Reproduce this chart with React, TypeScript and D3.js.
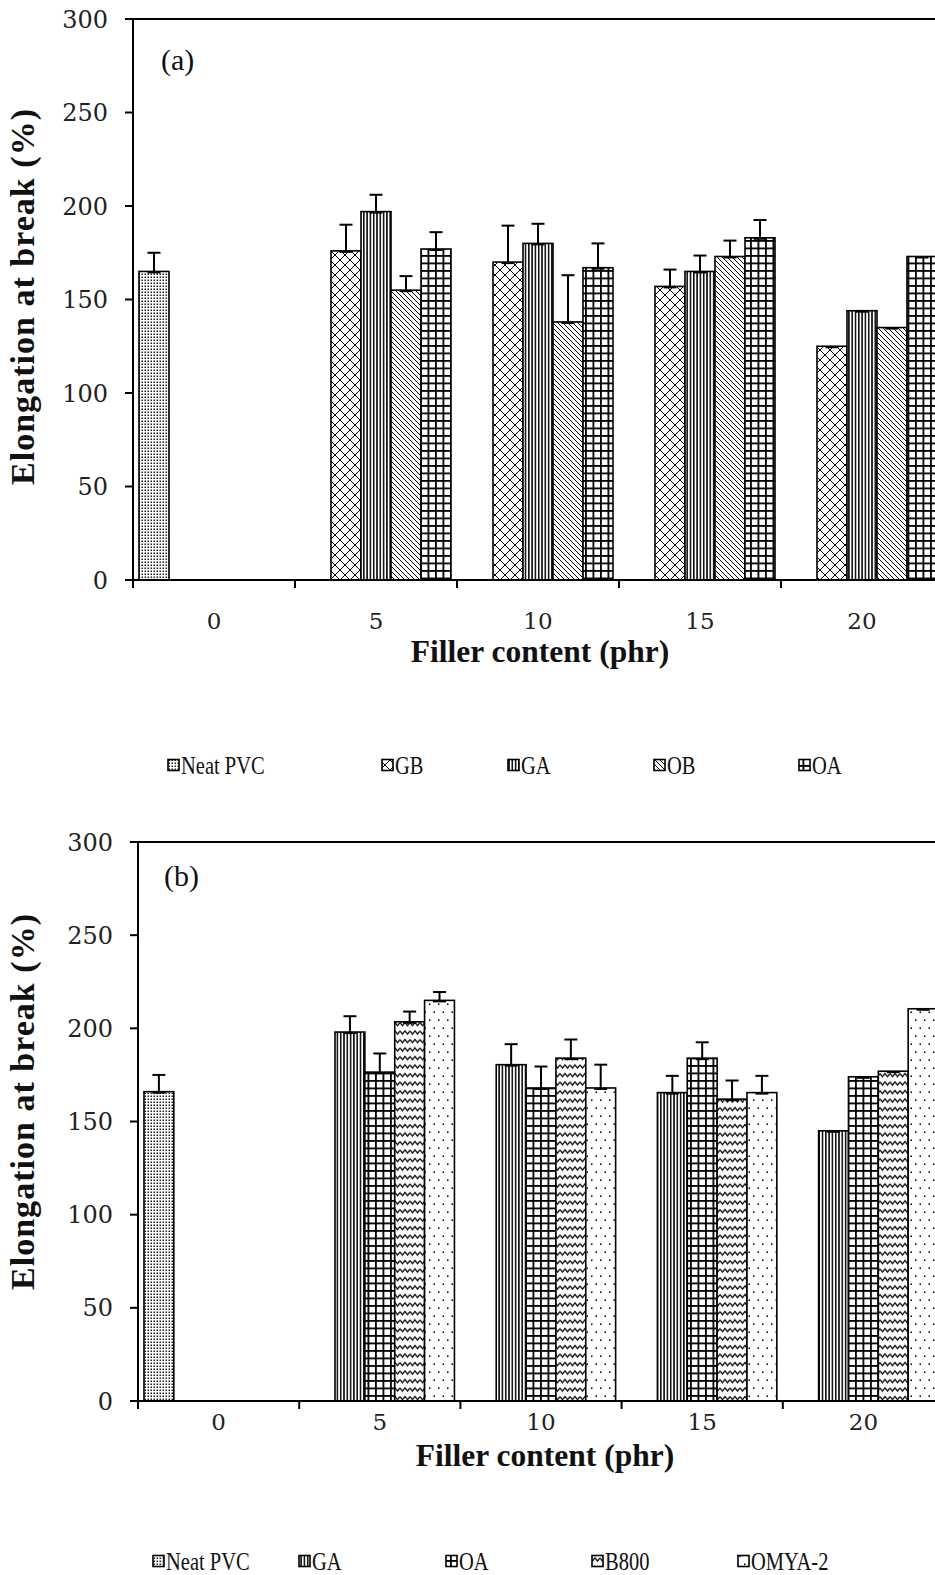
import React from 'react';
import * as d3 from 'd3';

// ---------- DATA ----------
const categories = ['0', '5', '10', '15', '20'];
const yTicks = [0, 50, 100, 150, 200, 250, 300];

// Chart (a)
const seriesA = ['Neat PVC', 'GB', 'GA', 'OB', 'OA'];
const neatA = [165, null, null, null, null];
const neatAErr = [10, null, null, null, null];
const gbA = [null, 176, 170, 157, 125];
const gbAErr = [null, 14, 19.5, 9, 0];
const gaA = [null, 197, 180, 165, 144];
const gaAErr = [null, 9, 10.5, 8.5, 0];
const obA = [null, 155, 138, 173, 135];
const obAErr = [null, 7.5, 25, 8.5, 0];
const oaA = [null, 177, 167, 183, 173];
const oaAErr = [null, 9, 13, 9.5, 0];

// Chart (b)
const seriesB = ['Neat PVC', 'GA', 'OA', 'B800', 'OMYA-2'];
const neatB = [166, null, null, null, null];
const neatBErr = [9, null, null, null, null];
const gaB = [null, 198, 180.5, 165.5, 145];
const gaBErr = [null, 8.5, 11, 9, 0];
const oaB = [null, 176.5, 168, 184, 174];
const oaBErr = [null, 10, 11.5, 8.5, 0];
const b800B = [null, 203.5, 184, 162, 177];
const b800BErr = [null, 5.5, 10, 10, 0];
const omyaB = [null, 215, 168, 165.5, 210.5];
const omyaBErr = [null, 4.5, 12.5, 9, 0];

const xTitle = 'Filler content (phr)';
const yTitle = 'Elongation at break (%)';

// ---------- PATTERNS ----------
const Patterns = () => (
  <defs>
    <pattern id="pNeat" patternUnits="userSpaceOnUse" width="3" height="3">
      <rect width="3" height="3" fill="#fff" />
      <rect x="0.5" y="0.5" width="1.5" height="1.5" fill="#222" />
    </pattern>
    <pattern id="pGB" patternUnits="userSpaceOnUse" width="10" height="10">
      <rect width="10" height="10" fill="#fff" />
      <path d="M0,0L10,10M10,0L0,10" stroke="#000" strokeWidth="1" />
    </pattern>
    <pattern id="pGA" patternUnits="userSpaceOnUse" width="3.3" height="10">
      <rect width="3.3" height="10" fill="#fff" />
      <rect x="0" y="0" width="1.6" height="10" fill="#111" />
    </pattern>
    <pattern id="pOB" patternUnits="userSpaceOnUse" width="5" height="5">
      <rect width="5" height="5" fill="#fff" />
      <path d="M0,0L5,5M-1,4L1,6M4,-1L6,1" stroke="#000" strokeWidth="1" />
    </pattern>
    <pattern id="pOA" patternUnits="userSpaceOnUse" width="7.5" height="7.5">
      <rect width="7.5" height="7.5" fill="#fff" />
      <rect x="0" y="0" width="1.8" height="7.5" fill="#000" />
      <rect x="0" y="0" width="7.5" height="1.8" fill="#000" />
    </pattern>
    <pattern id="pB800" patternUnits="userSpaceOnUse" width="10" height="8.5">
      <rect width="10" height="8.5" fill="#fff" />
      <path d="M0,2.5L2.5,5.5L5,2.5L7.5,5.5L10,2.5" stroke="#000" strokeWidth="1.3" fill="none" />
    </pattern>
    <pattern id="pOMYA" patternUnits="userSpaceOnUse" width="9" height="16">
      <rect width="9" height="16" fill="#fff" />
      <rect x="1.5" y="3.5" width="1.5" height="1.5" fill="#000" />
      <rect x="6" y="11.5" width="1.5" height="1.5" fill="#000" />
    </pattern>
  </defs>
);

type Series = { name: string; values: (number | null)[]; errs: (number | null)[]; fill: string };

type Layout = {
  axisX: number;
  y0: number;
  y300: number;
  catW: number;
  label: string;
  labelX: number;
  labelY: number;
  tickLabelRight: number;
  xTickLabelY: number;
  xTitleX: number;
  xTitleY: number;
  yTitleX: number;
  yTitleY: number;
  legendY: number;
  legendX: number[];
};

const FONT = '"Liberation Serif", "Times New Roman", serif';
const NUMFONT = '"DejaVu Serif", serif';

const Chart = ({ series, L }: { series: Series[]; L: Layout }) => {
  const x0 = d3
    .scaleBand<string>()
    .domain(categories)
    .range([L.axisX, L.axisX + L.catW * categories.length])
    .paddingInner(0)
    .paddingOuter(0);
  const x1 = d3
    .scaleBand<string>()
    .domain(series.map((s) => s.name))
    .range([0, x0.bandwidth()])
    .paddingInner(0)
    .paddingOuter(0.2);
  const y = d3.scaleLinear().domain([0, 300]).range([L.y0, L.y300]);
  const bw = x1.bandwidth();

  return (
    <g>
      {/* bars */}
      {series.map((s) =>
        s.values.map((v, i) => {
          if (v == null) return null;
          const bx = (x0(categories[i]) as number) + (x1(s.name) as number);
          return (
            <rect
              key={s.name + i}
              x={bx}
              y={y(v)}
              width={bw}
              height={L.y0 - y(v)}
              fill={`url(#${s.fill})`}
              stroke="#000"
              strokeWidth={1.6}
            />
          );
        })
      )}
      {/* error bars */}
      {series.map((s) =>
        s.values.map((v, i) => {
          if (v == null) return null;
          const e = s.errs[i] || 0;
          const cx = (x0(categories[i]) as number) + (x1(s.name) as number) + bw / 2;
          return (
            <g key={'e' + s.name + i} stroke="#000" strokeWidth={2}>
              {e > 0 && <line x1={cx} x2={cx} y1={y(v)} y2={y(v + e)} />}
              {e > 0 && <line x1={cx - 6.5} x2={cx + 6.5} y1={y(v + e)} y2={y(v + e)} />}
              <line x1={cx - 6.5} x2={cx + 6.5} y1={y(v) + 1} y2={y(v) + 1} />
            </g>
          );
        })
      )}
      {/* axes */}
      <line x1={L.axisX} x2={L.axisX} y1={L.y300} y2={L.y0 + 8} stroke="#000" strokeWidth={2} />
      <line x1={L.axisX - 8} x2={940} y1={L.y0} y2={L.y0} stroke="#000" strokeWidth={2} />
      <line x1={L.axisX - 8} x2={940} y1={L.y300} y2={L.y300} stroke="#000" strokeWidth={2} />
      {yTicks.map((t) => (
        <g key={'yt' + t}>
          <line x1={L.axisX - 8} x2={L.axisX} y1={y(t)} y2={y(t)} stroke="#000" strokeWidth={2} />
          <text
            x={L.tickLabelRight}
            y={y(t)}
            dy="0.36em"
            textAnchor="end"
            fontFamily={NUMFONT}
            fontSize={24}
            fill="#222"
          >
            {t}
          </text>
        </g>
      ))}
      {categories.map((c, i) => (
        <g key={'xt' + c}>
          {i > 0 && (
            <line
              x1={x0(c) as number}
              x2={x0(c) as number}
              y1={L.y0}
              y2={L.y0 + 8}
              stroke="#000"
              strokeWidth={2}
            />
          )}
          <text
            x={(x0(c) as number) + x0.bandwidth() / 2}
            y={L.xTickLabelY}
            textAnchor="middle"
            fontFamily={NUMFONT}
            fontSize={23}
            fill="#222"
          >
            {c}
          </text>
        </g>
      ))}
      <text x={L.labelX} y={L.labelY} fontFamily={FONT} fontSize={30} fill="#111">
        {L.label}
      </text>
      <text
        x={L.xTitleX}
        y={L.xTitleY}
        textAnchor="middle"
        fontFamily={FONT}
        fontWeight="bold"
        fontSize={31.5}
        fill="#111"
      >
        {xTitle}
      </text>
      <text
        transform={`translate(${L.yTitleX},${L.yTitleY}) rotate(-90)`}
        textAnchor="middle"
        fontFamily={FONT}
        fontWeight="bold"
        fontSize={34}
        fill="#111"
        textLength={376}
        lengthAdjust="spacing"
      >
        {yTitle}
      </text>
      {/* legend */}
      {series.map((s, i) => (
        <g key={'lg' + s.name}>
          <rect
            x={L.legendX[i]}
            y={L.legendY - 5.5}
            width={11}
            height={11}
            fill={`url(#${s.fill})`}
            stroke="#000"
            strokeWidth={1.6}
          />
          <text
            transform={`translate(${L.legendX[i] + 13},${L.legendY}) scale(0.82,1)`}
            dy="0.35em"
            fontFamily={FONT}
            fontSize={25}
            fill="#111"
          >
            {s.name}
          </text>
        </g>
      ))}
    </g>
  );
};

const seriesDataA: Series[] = [
  { name: seriesA[0], values: neatA, errs: neatAErr, fill: 'pNeat' },
  { name: seriesA[1], values: gbA, errs: gbAErr, fill: 'pGB' },
  { name: seriesA[2], values: gaA, errs: gaAErr, fill: 'pGA' },
  { name: seriesA[3], values: obA, errs: obAErr, fill: 'pOB' },
  { name: seriesA[4], values: oaA, errs: oaAErr, fill: 'pOA' },
];

const seriesDataB: Series[] = [
  { name: seriesB[0], values: neatB, errs: neatBErr, fill: 'pNeat' },
  { name: seriesB[1], values: gaB, errs: gaBErr, fill: 'pGA' },
  { name: seriesB[2], values: oaB, errs: oaBErr, fill: 'pOA' },
  { name: seriesB[3], values: b800B, errs: b800BErr, fill: 'pB800' },
  { name: seriesB[4], values: omyaB, errs: omyaBErr, fill: 'pOMYA' },
];

const layoutA: Layout = {
  axisX: 133,
  y0: 580,
  y300: 19,
  catW: 162,
  label: '(a)',
  labelX: 161,
  labelY: 70,
  tickLabelRight: 108,
  xTickLabelY: 629,
  xTitleX: 540,
  xTitleY: 662,
  yTitleX: 34,
  yTitleY: 297,
  legendY: 765,
  legendX: [168, 382, 508, 654, 799],
};

const layoutB: Layout = {
  axisX: 138,
  y0: 1401,
  y300: 842,
  catW: 161.2,
  label: '(b)',
  labelX: 164,
  labelY: 886,
  tickLabelRight: 113,
  xTickLabelY: 1430,
  xTitleX: 545,
  xTitleY: 1466,
  yTitleX: 34,
  yTitleY: 1102,
  legendY: 1561,
  legendX: [153, 299, 446, 592, 738],
};

export default function App() {
  return (
    <svg
      width={935}
      height={1575}
      style={{ position: 'absolute', left: 0, top: 0, background: '#fff' }}
    >
      <rect width={935} height={1575} fill="#fff" />
      <Patterns />
      <Chart series={seriesDataA} L={layoutA} />
      <Chart series={seriesDataB} L={layoutB} />
    </svg>
  );
}
